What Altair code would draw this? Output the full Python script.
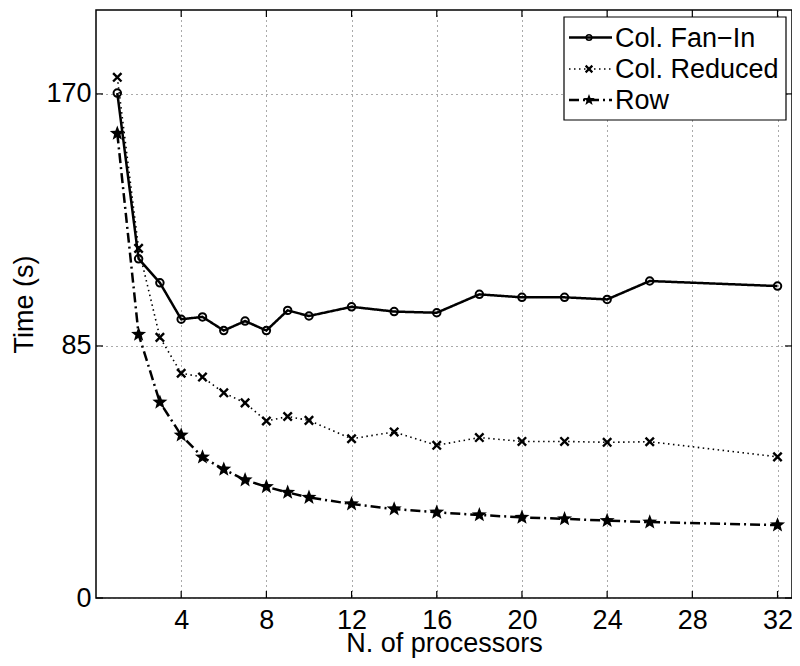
import math
import altair as alt
import pandas as pd

procs = [1, 2, 3, 4, 5, 6, 7, 8, 9, 10, 12, 14, 16, 18, 20, 22, 24, 26, 32]
fan_in = [170.3, 114.4, 106.3, 94.0, 94.8, 90.2, 93.4, 90.2, 97.0, 95.1, 98.2, 96.6, 96.2, 102.4, 101.4, 101.4, 100.7, 106.9, 105.2]
reduced = [175.6, 117.9, 87.9, 75.8, 74.5, 69.2, 65.8, 59.7, 61.2, 59.9, 53.7, 56.0, 51.5, 54.1, 52.8, 52.8, 52.5, 52.7, 47.6]
row = [156.7, 88.9, 66.0, 54.9, 47.5, 43.4, 39.8, 37.5, 35.6, 33.9, 31.7, 30.0, 28.9, 28.0, 27.2, 26.7, 26.1, 25.6, 24.6]
series_names = ["Col. Fan\u2212In", "Col. Reduced", "Row"]
x_ticks = [4, 8, 12, 16, 20, 24, 28, 32]
y_ticks = [0, 85, 170]

W, H = 696, 588
XDOM = [0, 32.68]
YDOM = [0, 198.3]
FONT = "Liberation Sans"
FS = 27

# marker paths
def star_path():
    pts = []
    for k in range(10):
        r = 1.0 if k % 2 == 0 else 0.42
        a = math.radians(-90 + 36 * k)
        pts.append((r * math.cos(a), r * math.sin(a)))
    return "M" + "L".join(f"{x:.3f},{y:.3f}" for x, y in pts) + "Z"

X_PATH = "M-1,-1L1,1M-1,1L1,-1"
STAR = star_path()

styles = {
    series_names[0]: dict(dash=[1, 0], lw=2.5, shape="circle", size=56, filled=False, sw=2.0, lsize=30, lsw=1.6),
    series_names[1]: dict(dash=[1.5, 3.5], lw=1.6, shape=X_PATH, size=70, filled=False, sw=2.4, lsize=45, lsw=2.2),
    series_names[2]: dict(dash=[10, 4, 2, 4], lw=2.5, shape=STAR, size=250, filled=True, sw=0.8, lsize=150, lsw=0.8),
}

df = pd.DataFrame({
    "procs": procs * 3,
    "time": fan_in + reduced + row,
    "series": [s for s in series_names for _ in procs],
})

xs = alt.Scale(domain=XDOM, nice=False, zero=False)
ys = alt.Scale(domain=YDOM, nice=False)

base = alt.Chart(df)

axis_layer = alt.Chart(df).mark_point(opacity=0).encode(
    x=alt.X("procs:Q", scale=xs, title="N. of processors",
            axis=alt.Axis(values=x_ticks, grid=True, labelPadding=9, titleY=32, titleBaseline="top")),
    y=alt.Y("time:Q", scale=ys, title="Time (s)",
            axis=alt.Axis(values=y_ticks, grid=True, labelPadding=5, titlePadding=7)),
)

layers = [axis_layer]

tx = pd.DataFrame({"t": x_ticks})
ty = pd.DataFrame({"t": y_ticks})
tick_len = 7
layers.append(alt.Chart(tx).mark_rule(color="black", strokeWidth=1.2).encode(
    x=alt.X("t:Q", scale=xs), y=alt.value(H), y2=alt.value(H - tick_len)))
layers.append(alt.Chart(tx).mark_rule(color="black", strokeWidth=1.2).encode(
    x=alt.X("t:Q", scale=xs), y=alt.value(0), y2=alt.value(tick_len)))
layers.append(alt.Chart(ty).mark_rule(color="black", strokeWidth=1.2).encode(
    y=alt.Y("t:Q", scale=ys), x=alt.value(0), x2=alt.value(tick_len)))
layers.append(alt.Chart(ty).mark_rule(color="black", strokeWidth=1.2).encode(
    y=alt.Y("t:Q", scale=ys), x=alt.value(W), x2=alt.value(W - tick_len)))

for s in series_names:
    st = styles[s]
    sub = base.transform_filter(alt.datum.series == s)
    layers.append(sub.mark_line(color="black", strokeWidth=st["lw"], strokeDash=st["dash"]).encode(
        x=alt.X("procs:Q", scale=xs), y=alt.Y("time:Q", scale=ys)))
    layers.append(sub.mark_point(shape=st["shape"], size=st["size"], filled=st["filled"],
                                 color="black", strokeWidth=st["sw"], opacity=1).encode(
        x=alt.X("procs:Q", scale=xs), y=alt.Y("time:Q", scale=ys)))

# legend box
legend_df = pd.DataFrame({"label": series_names})
layers.append(alt.Chart(legend_df).transform_filter(alt.datum.label == series_names[0]).mark_rect(
    fill="white", stroke="black", strokeWidth=1.2).encode(
    x=alt.value(468), x2=alt.value(690), y=alt.value(7), y2=alt.value(110)))

leg_y = [27.5, 59, 90]
for s, ly in zip(series_names, leg_y):
    st = styles[s]
    one = alt.Chart(legend_df).transform_filter(alt.datum.label == s)
    layers.append(one.mark_rule(color="black", strokeWidth=st["lw"], strokeDash=st["dash"]).encode(
        x=alt.value(473), x2=alt.value(516), y=alt.value(ly)))
    layers.append(one.mark_point(shape=st["shape"], size=st["lsize"], filled=st["filled"],
                                 color="black", strokeWidth=st["lsw"], opacity=1).encode(
        x=alt.value(493), y=alt.value(ly)))
    layers.append(one.mark_text(align="left", baseline="middle", font=FONT,
                                fontSize=FS, color="black").encode(
        x=alt.value(519), y=alt.value(ly + 1), text="label:N"))

chart = alt.layer(*layers).properties(
    width=W, height=H,
    background="white",
    autosize=alt.AutoSizeParams(type="none"),
    padding={"left": 88, "top": 2, "right": 0, "bottom": 60},
).configure_view(
    stroke="black", strokeWidth=1.5
).configure_axis(
    domain=False, ticks=False, tickSize=0,
    labelFont=FONT, labelFontSize=FS, labelColor="black",
    titleFont=FONT, titleFontSize=FS, titleColor="black", titleFontWeight="normal",
    gridColor="#555555", gridDash=[1, 4], gridWidth=1, gridOpacity=1,
)

chart.save("out.html", embed_options={"renderer": "svg", "actions": False})
